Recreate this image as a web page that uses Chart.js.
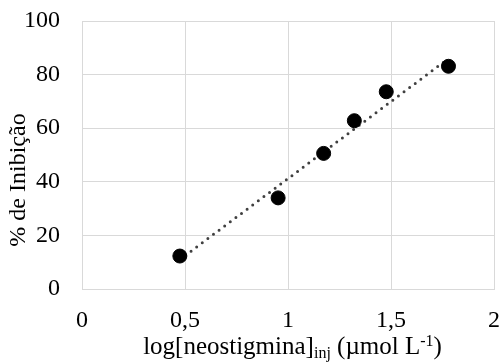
<!DOCTYPE html>
<html>
<head>
<meta charset="utf-8">
<script src="https://cdn.jsdelivr.net/npm/chart.js@4"></script>
<style>
  html, body { margin: 0; padding: 0; background: #ffffff; }
  #wrap { width: 503px; height: 362px; }
</style>
</head>
<body>
<div id="wrap"><canvas id="c" width="503" height="362"></canvas></div>
<script>
// Data
const logConc = [0.475, 0.952, 1.173, 1.322, 1.477, 1.779];
const inhibition = [12.3, 34.0, 50.6, 62.8, 73.6, 83.1];
// Linear trend line end points
const trendX = [0.475, 1.779];
const trendY = [11.0, 86.0];
const xTicks = [0, 0.5, 1, 1.5, 2];
const yTicks = [0, 20, 40, 60, 80, 100];
const yTitle = '% de Inibição';
const xTitleParts = [
  { text: 'log[neostigmina]', kind: 'normal' },
  { text: 'inj', kind: 'sub' },
  { text: ' (µmol L', kind: 'normal' },
  { text: '-1', kind: 'sup' },
  { text: ')', kind: 'normal' }
];

const FONT = "'Liberation Serif', 'Times New Roman', serif";

const titlePlugin = {
  id: 'titles',
  afterDraw(chart) {
    const ctx = chart.ctx;
    const area = chart.chartArea;
    ctx.save();
    ctx.fillStyle = '#000000';
    ctx.font = '24px ' + FONT;
    ctx.textAlign = 'center';
    ctx.textBaseline = 'middle';
    ctx.translate(19, 180);
    ctx.rotate(-Math.PI / 2);
    ctx.fillText(yTitle, 0, 0);
    ctx.restore();

    ctx.save();
    ctx.fillStyle = '#000000';
    ctx.textBaseline = 'alphabetic';
    ctx.textAlign = 'left';
    const fontFor = k => (k === 'normal' ? '25px ' : '16px ') + FONT;
    let total = 0;
    xTitleParts.forEach(p => { ctx.font = fontFor(p.kind); total += ctx.measureText(p.text).width; });
    const cx = (area.left + area.right) / 2 + 4.5;
    let x = cx - total / 2;
    const base = 354;
    xTitleParts.forEach(p => {
      ctx.font = fontFor(p.kind);
      let y = base;
      if (p.kind === 'sub') y = base + 4;
      if (p.kind === 'sup') y = base - 8;
      ctx.fillText(p.text, x, y);
      x += ctx.measureText(p.text).width;
    });
    ctx.restore();
  }
};

const fmt = v => String(v).replace('.', ',');

new Chart(document.getElementById('c'), {
  type: 'scatter',
  data: {
    datasets: [
      {
        type: 'scatter',
        data: logConc.map((x, i) => ({ x, y: inhibition[i] })),
        backgroundColor: '#000000',
        borderColor: '#000000',
        pointRadius: 7,
        pointHoverRadius: 7,
        order: 0
      },
      {
        type: 'line',
        data: trendX.map((x, i) => ({ x, y: trendY[i] })),
        borderColor: '#404040',
        borderWidth: 3,
        borderDash: [0, 7],
        borderCapStyle: 'round',
        pointRadius: 0,
        fill: false,
        tension: 0,
        order: 1
      }
    ]
  },
  options: {
    responsive: false,
    animation: false,
    events: [],
    layout: { padding: { left: 0, right: 9, top: 21, bottom: 0 } },
    plugins: { legend: { display: false }, tooltip: { enabled: false } },
    scales: {
      x: {
        type: 'linear',
        min: 0, max: 2,
        afterBuildTicks: s => { s.ticks = xTicks.map(v => ({ value: v })); },
        afterFit: s => { s.height = 73; s.paddingLeft = 0; s.paddingRight = 0; },
        grid: { color: '#d9d9d9', lineWidth: 1, drawTicks: false },
        border: { color: '#d9d9d9', width: 1 },
        ticks: { color: '#000000', font: { family: FONT, size: 24 }, padding: 17, maxRotation: 0, callback: v => fmt(v) },
        title: { display: false }
      },
      y: {
        type: 'linear',
        min: 0, max: 100,
        afterBuildTicks: s => { s.ticks = yTicks.map(v => ({ value: v })); },
        afterFit: s => { s.width = 82; s.paddingTop = 0; s.paddingBottom = 0; },
        grid: { color: '#d9d9d9', lineWidth: 1, drawTicks: false },
        border: { color: '#d9d9d9', width: 1 },
        ticks: { color: '#000000', font: { family: FONT, size: 24 }, padding: 22, callback: v => fmt(v) },
        title: { display: false }
      }
    }
  },
  plugins: [titlePlugin]
});
</script>
</body>
</html>
